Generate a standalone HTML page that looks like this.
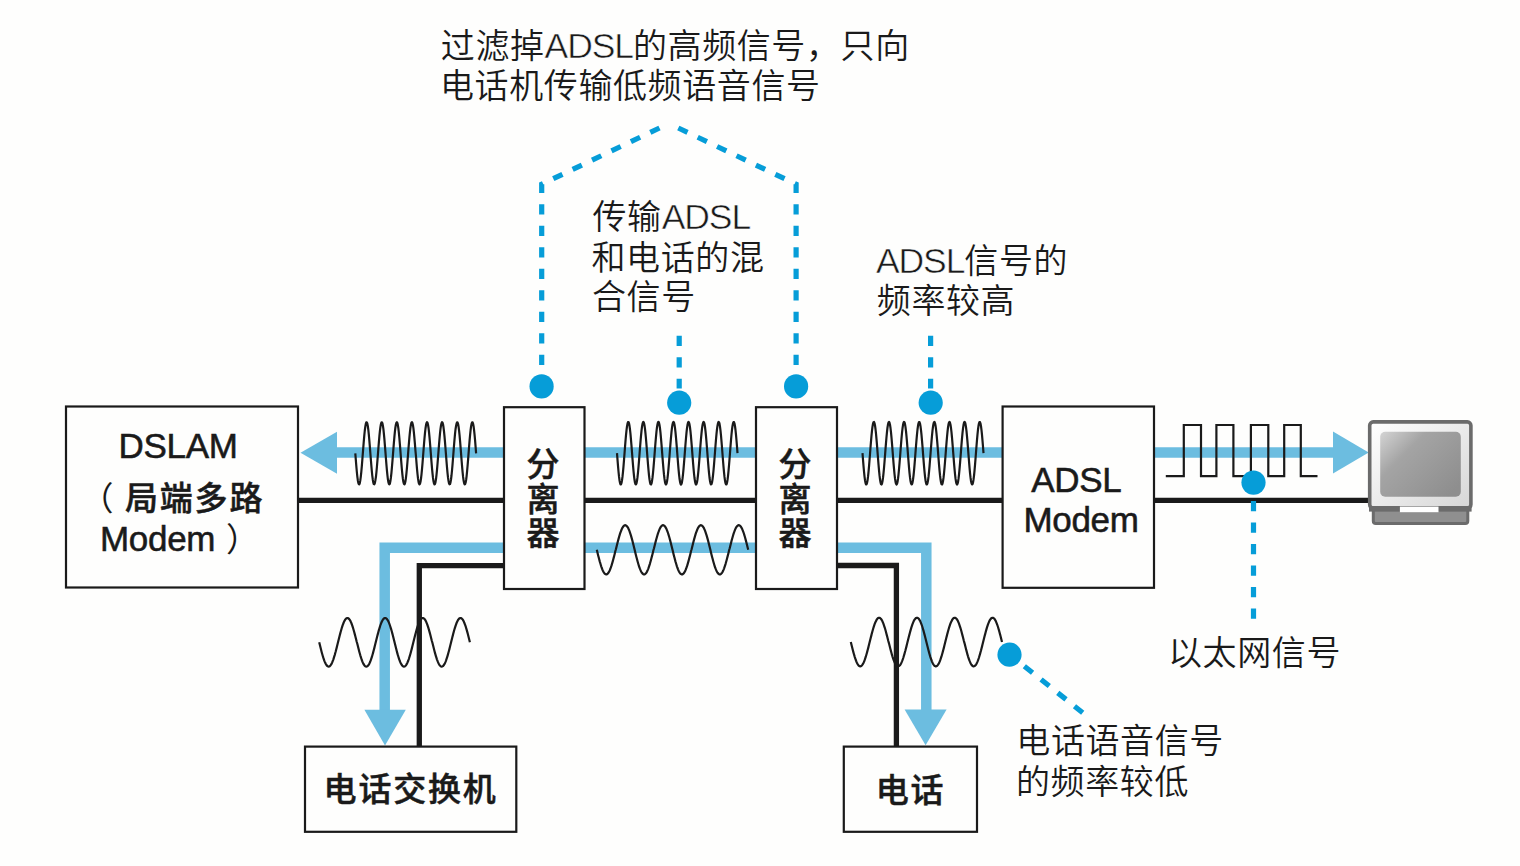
<!DOCTYPE html>
<html lang="zh-CN">
<head>
<meta charset="utf-8">
<title>ADSL 分离器</title>
<style>
html,body{margin:0;padding:0;background:#fefefd;}
body{width:1520px;height:866px;overflow:hidden;position:relative;}
svg{display:block;position:absolute;left:0;top:0;}
text{font-family:"Liberation Sans","Noto Sans CJK SC",sans-serif;fill:#1a1a1a;}
.ann{font-size:34px;font-weight:350;letter-spacing:0.6px;}
.lbl{font-size:35px;font-weight:400;letter-spacing:-0.3px;stroke:#1a1a1a;stroke-width:0.55px;}
.cjkb{font-size:33px;font-weight:500;letter-spacing:1.8px;stroke:#1a1a1a;stroke-width:0.5px;}
.lat{font-size:35.5px;letter-spacing:-1.1px;stroke:#fefefd;stroke-width:0.55px;paint-order:fill stroke;}
.par{font-size:33px;font-weight:400;stroke:none;letter-spacing:0;}
.box{fill:#fefefd;stroke:#1a1a1a;stroke-width:2.2;}
.wave{fill:none;stroke:#1a1a1a;stroke-width:2.2;stroke-linejoin:round;stroke-linecap:butt;}
.blk{fill:none;stroke:#1a1a1a;stroke-width:5.3;stroke-linejoin:miter;}
.blue{fill:none;stroke:#6cbde0;stroke-width:10.5;stroke-linejoin:miter;}
.ah{fill:#6cbde0;}
.dot{fill:#069dd8;}
.dash{fill:none;stroke:#069dd8;stroke-width:5.2;stroke-dasharray:10.2 11.3;}
</style>
</head>
<body>
<svg width="1520" height="866" viewBox="0 0 1520 866">
<defs>
<linearGradient id="gbez" x1="0" y1="0" x2="1" y2="1">
<stop offset="0" stop-color="#ffffff"/><stop offset="1" stop-color="#d6d6d6"/>
</linearGradient>
<linearGradient id="gscr" x1="0" y1="0" x2="1" y2="0.8">
<stop offset="0" stop-color="#d4d4d4"/><stop offset="0.35" stop-color="#a4a4a4"/><stop offset="1" stop-color="#8e8e8e"/>
</linearGradient>
</defs>

<!-- blue signal bands -->
<path class="blue" d="M1002 452.6H337"/>
<path class="ah" d="M300.5 452.8L337 431.8V473.8Z"/>
<path class="blue" d="M1154 452.6H1334"/>
<path class="ah" d="M1368.7 452.6L1333 431.6V473.6Z"/>
<path class="blue" d="M756 547.8H384.7V711"/>
<path class="ah" d="M385 745.5L364.4 709.8H405.8Z"/>
<path class="blue" d="M837 547.8H926.3V711"/>
<path class="ah" d="M925.6 745.3L904.6 709.6H946.6Z"/>

<!-- black wires -->
<path class="blk" d="M298 500.3H1369"/>
<path class="blk" d="M504 565.6H419.3V747"/>
<path class="blk" d="M837 565.5H896.4V747"/>

<!-- boxes -->
<rect class="box" x="66" y="406.5" width="232" height="181"/>
<rect class="box" x="504" y="407.2" width="80.5" height="181.8"/>
<rect class="box" x="756" y="407.2" width="81" height="181.8"/>
<rect class="box" x="1002.6" y="406.5" width="151.4" height="181.3"/>
<rect class="box" x="305" y="746.6" width="211.3" height="85.2"/>
<rect class="box" x="843.8" y="746.6" width="133.2" height="85.2"/>

<!-- waves -->
<path class="wave" d="M355.3,453.3 L355.8,459.7 L356.3,465.9 L356.8,471.5 L357.3,476.3 L357.8,480.2 L358.3,482.8 L358.8,484.2 L359.3,484.3 L359.8,483.0 L360.3,480.4 L360.8,476.6 L361.3,471.8 L361.8,466.3 L362.3,460.1 L362.8,453.7 L363.3,447.3 L363.8,441.1 L364.3,435.4 L364.8,430.5 L365.3,426.6 L365.8,423.9 L366.3,422.4 L366.8,422.3 L367.3,423.5 L367.8,426.0 L368.3,429.7 L368.8,434.4 L369.3,440.0 L369.8,446.1 L370.3,452.5 L370.8,458.9 L371.3,465.2 L371.8,470.9 L372.3,475.8 L372.8,479.7 L373.3,482.6 L373.8,484.1 L374.3,484.3 L374.8,483.2 L375.3,480.8 L375.9,477.1 L376.4,472.5 L376.9,467.0 L377.4,460.9 L377.9,454.5 L378.4,448.1 L378.9,441.8 L379.4,436.1 L379.9,431.1 L380.4,427.1 L380.9,424.2 L381.4,422.5 L381.9,422.3 L382.4,423.3 L382.9,425.7 L383.4,429.2 L383.9,433.8 L384.4,439.2 L384.9,445.3 L385.4,451.7 L385.9,458.1 L386.4,464.4 L386.9,470.2 L387.4,475.2 L387.9,479.3 L388.4,482.3 L388.9,484.0 L389.4,484.4 L389.9,483.4 L390.4,481.1 L390.9,477.7 L391.4,473.1 L391.9,467.7 L392.4,461.7 L392.9,455.3 L393.4,448.9 L393.9,442.6 L394.4,436.8 L394.9,431.7 L395.4,427.5 L395.9,424.5 L396.4,422.7 L396.9,422.2 L397.4,423.1 L397.9,425.3 L398.4,428.7 L398.9,433.2 L399.4,438.5 L399.9,444.5 L400.4,450.9 L400.9,457.3 L401.4,463.6 L401.9,469.5 L402.4,474.6 L402.9,478.9 L403.4,482.0 L403.9,483.8 L404.4,484.4 L404.9,483.6 L405.4,481.5 L405.9,478.1 L406.4,473.7 L406.9,468.4 L407.4,462.5 L407.9,456.1 L408.4,449.7 L408.9,443.3 L409.4,437.5 L409.9,432.3 L410.4,428.0 L410.9,424.8 L411.4,422.8 L411.9,422.2 L412.4,422.9 L412.9,424.9 L413.4,428.2 L413.9,432.6 L414.4,437.8 L414.9,443.7 L415.4,450.1 L416.0,456.5 L416.5,462.9 L417.0,468.8 L417.5,474.0 L418.0,478.4 L418.5,481.7 L419.0,483.7 L419.5,484.4 L420.0,483.8 L420.5,481.8 L421.0,478.6 L421.5,474.3 L422.0,469.1 L422.5,463.3 L423.0,456.9 L423.5,450.5 L424.0,444.1 L424.5,438.2 L425.0,432.9 L425.5,428.5 L426.0,425.1 L426.5,423.0 L427.0,422.2 L427.5,422.8 L428.0,424.6 L428.5,427.7 L429.0,432.0 L429.5,437.1 L430.0,443.0 L430.5,449.3 L431.0,455.7 L431.5,462.1 L432.0,468.1 L432.5,473.4 L433.0,477.9 L433.5,481.3 L434.0,483.5 L434.5,484.4 L435.0,483.9 L435.5,482.1 L436.0,479.1 L436.5,474.9 L437.0,469.8 L437.5,464.0 L438.0,457.7 L438.5,451.3 L439.0,444.9 L439.5,438.9 L440.0,433.5 L440.5,428.9 L441.0,425.5 L441.5,423.2 L442.0,422.2 L442.5,422.6 L443.0,424.3 L443.5,427.3 L444.0,431.4 L444.5,436.4 L445.0,442.2 L445.5,448.5 L446.0,454.9 L446.5,461.3 L447.0,467.4 L447.5,472.8 L448.0,477.4 L448.5,480.9 L449.0,483.3 L449.5,484.3 L450.0,484.1 L450.5,482.4 L451.0,479.5 L451.5,475.5 L452.0,470.5 L452.5,464.8 L453.0,458.5 L453.5,452.1 L454.0,445.7 L454.5,439.6 L455.0,434.1 L455.5,429.5 L456.1,425.8 L456.6,423.4 L457.1,422.3 L457.6,422.5 L458.1,424.0 L458.6,426.9 L459.1,430.8 L459.6,435.7 L460.1,441.4 L460.6,447.7 L461.1,454.1 L461.6,460.5 L462.1,466.6 L462.6,472.2 L463.1,476.9 L463.6,480.6 L464.1,483.1 L464.6,484.3 L465.1,484.2 L465.6,482.7 L466.1,480.0 L466.6,476.1 L467.1,471.2 L467.6,465.5 L468.1,459.3 L468.6,452.9 L469.1,446.5 L469.6,440.3 L470.1,434.8 L470.6,430.0 L471.1,426.2 L471.6,423.6 L472.1,422.3 L472.6,422.4 L473.1,423.8 L473.6,426.4 L474.1,430.3 L474.6,435.1 L475.1,440.7 L475.6,446.9 L476.1,453.3"/>
<path class="wave" d="M617.0,453.2 L617.5,459.7 L618.0,465.9 L618.5,471.5 L619.0,476.4 L619.5,480.2 L620.0,482.9 L620.5,484.3 L621.0,484.4 L621.5,483.0 L622.0,480.4 L622.5,476.7 L623.0,471.9 L623.5,466.3 L624.0,460.1 L624.5,453.6 L625.0,447.1 L625.5,440.9 L626.0,435.2 L626.5,430.3 L627.0,426.4 L627.5,423.6 L628.0,422.1 L628.5,422.0 L629.0,423.2 L629.5,425.8 L630.0,429.5 L630.5,434.2 L631.0,439.8 L631.5,445.9 L632.0,452.4 L632.5,458.9 L633.0,465.1 L633.5,470.9 L634.0,475.8 L634.5,479.8 L635.0,482.7 L635.5,484.2 L636.0,484.4 L636.5,483.3 L637.0,480.8 L637.5,477.2 L638.0,472.5 L638.5,467.0 L639.0,460.9 L639.5,454.4 L640.0,447.9 L640.5,441.6 L641.0,435.9 L641.5,430.9 L642.0,426.8 L642.5,423.9 L643.0,422.3 L643.5,422.0 L644.0,423.0 L644.5,425.4 L645.0,428.9 L645.5,433.6 L646.0,439.0 L646.5,445.1 L647.0,451.6 L647.5,458.1 L648.0,464.4 L648.5,470.2 L649.0,475.3 L649.5,479.4 L650.0,482.4 L650.5,484.1 L651.0,484.5 L651.5,483.5 L652.0,481.2 L652.5,477.7 L653.0,473.1 L653.5,467.7 L654.0,461.7 L654.5,455.2 L655.0,448.7 L655.5,442.4 L656.0,436.6 L656.5,431.4 L657.0,427.2 L657.5,424.2 L658.0,422.4 L658.5,421.9 L659.0,422.8 L659.5,425.0 L660.0,428.4 L660.5,432.9 L661.0,438.3 L661.5,444.3 L662.0,450.8 L662.5,457.3 L663.0,463.6 L663.5,469.5 L664.0,474.7 L664.5,478.9 L665.0,482.1 L665.5,483.9 L666.0,484.5 L666.5,483.7 L667.0,481.6 L667.5,478.2 L668.0,473.8 L668.5,468.4 L669.0,462.4 L669.5,456.1 L670.0,449.5 L670.5,443.2 L671.0,437.3 L671.5,432.0 L672.0,427.7 L672.5,424.5 L673.0,422.5 L673.5,421.9 L674.0,422.6 L674.5,424.7 L675.0,427.9 L675.5,432.3 L676.0,437.6 L676.5,443.6 L677.0,449.9 L677.5,456.5 L678.0,462.8 L678.5,468.8 L679.0,474.1 L679.5,478.5 L680.0,481.7 L680.5,483.8 L681.0,484.5 L681.5,483.9 L682.0,481.9 L682.5,478.7 L683.0,474.4 L683.5,469.1 L684.0,463.2 L684.5,456.9 L685.0,450.3 L685.5,444.0 L686.0,438.0 L686.5,432.6 L687.0,428.2 L687.5,424.8 L688.0,422.7 L688.5,421.9 L689.0,422.5 L689.5,424.3 L690.0,427.5 L690.5,431.7 L691.0,436.9 L691.5,442.8 L692.0,449.1 L692.5,455.6 L693.0,462.1 L693.5,468.1 L694.0,473.5 L694.5,478.0 L695.0,481.4 L695.5,483.6 L696.0,484.5 L696.5,484.0 L697.0,482.2 L697.5,479.2 L698.0,475.0 L698.5,469.8 L699.0,464.0 L699.5,457.7 L700.0,451.2 L700.5,444.7 L701.0,438.7 L701.5,433.3 L702.0,428.7 L702.5,425.2 L703.0,422.9 L703.5,421.9 L704.0,422.3 L704.5,424.0 L705.0,427.0 L705.5,431.1 L706.0,436.2 L706.5,442.0 L707.0,448.3 L707.5,454.8 L708.0,461.3 L708.5,467.4 L709.0,472.8 L709.5,477.5 L710.0,481.0 L710.5,483.4 L711.0,484.4 L711.5,484.1 L712.0,482.5 L712.5,479.6 L713.0,475.5 L713.5,470.5 L714.0,464.8 L714.5,458.5 L715.0,452.0 L715.5,445.5 L716.0,439.4 L716.5,433.9 L717.0,429.2 L717.5,425.6 L718.0,423.1 L718.5,422.0 L719.0,422.2 L719.5,423.7 L720.0,426.6 L720.5,430.6 L721.0,435.5 L721.5,441.3 L722.0,447.5 L722.5,454.0 L723.0,460.5 L723.5,466.6 L724.0,472.2 L724.5,476.9 L725.0,480.6 L725.5,483.2 L726.0,484.4 L726.5,484.3 L727.0,482.8 L727.5,480.0 L728.0,476.1 L728.5,471.2 L729.0,465.5 L729.5,459.3 L730.0,452.8 L730.5,446.3 L731.0,440.1 L731.5,434.5 L732.0,429.7 L732.5,426.0 L733.0,423.4 L733.5,422.0 L734.0,422.1 L734.5,423.5 L735.0,426.2 L735.5,430.0 L736.0,434.9 L736.5,440.5 L737.0,446.7 L737.5,453.2"/>
<path class="wave" d="M862.5,453.2 L863.0,459.7 L863.5,465.8 L864.0,471.5 L864.5,476.3 L865.0,480.2 L865.5,482.9 L866.0,484.3 L866.5,484.4 L867.0,483.1 L867.5,480.6 L868.0,476.9 L868.5,472.1 L869.0,466.6 L869.5,460.4 L870.0,454.0 L870.5,447.5 L871.0,441.3 L871.5,435.6 L872.0,430.6 L872.5,426.7 L873.0,423.8 L873.5,422.2 L874.0,422.0 L874.5,423.1 L875.0,425.4 L875.5,429.0 L876.0,433.6 L876.5,439.1 L877.0,445.2 L877.5,451.6 L878.0,458.1 L878.5,464.3 L879.0,470.1 L879.5,475.2 L880.0,479.3 L880.5,482.3 L881.0,484.1 L881.5,484.5 L882.0,483.6 L882.5,481.3 L883.0,477.9 L883.5,473.4 L884.0,468.0 L884.5,462.0 L885.0,455.6 L885.5,449.1 L886.0,442.8 L886.5,437.0 L887.0,431.8 L887.5,427.5 L888.0,424.4 L888.5,422.5 L889.0,421.9 L889.5,422.7 L890.0,424.7 L890.5,428.0 L891.0,432.4 L891.5,437.7 L892.0,443.6 L892.5,450.0 L893.0,456.4 L893.5,462.8 L894.0,468.7 L894.5,474.0 L895.0,478.4 L895.5,481.7 L896.0,483.7 L896.5,484.5 L897.0,483.9 L897.5,482.0 L898.0,478.9 L898.5,474.6 L899.0,469.4 L899.5,463.6 L900.0,457.3 L900.5,450.8 L901.0,444.4 L901.5,438.4 L902.0,433.0 L902.5,428.5 L903.0,425.1 L903.5,422.8 L904.0,421.9 L904.5,422.3 L905.0,424.1 L905.5,427.1 L906.0,431.2 L906.5,436.3 L907.0,442.1 L907.5,448.3 L908.0,454.8 L908.5,461.2 L909.0,467.3 L909.5,472.8 L910.0,477.4 L910.5,481.0 L911.0,483.3 L911.5,484.4 L912.0,484.2 L912.5,482.6 L913.0,479.7 L913.5,475.8 L914.0,470.8 L914.5,465.1 L915.0,458.9 L915.5,452.4 L916.0,446.0 L916.5,439.8 L917.0,434.3 L917.5,429.5 L918.0,425.8 L918.5,423.3 L919.0,422.0 L919.5,422.1 L920.0,423.5 L920.5,426.2 L921.0,430.1 L921.5,434.9 L922.0,440.6 L922.5,446.7 L923.0,453.2 L923.5,459.7 L924.0,465.8 L924.5,471.5 L925.0,476.3 L925.5,480.2 L926.0,482.9 L926.5,484.3 L927.0,484.4 L927.5,483.1 L928.0,480.6 L928.5,476.9 L929.0,472.1 L929.5,466.6 L930.0,460.4 L930.5,454.0 L931.0,447.5 L931.5,441.3 L932.0,435.6 L932.5,430.6 L933.0,426.7 L933.5,423.8 L934.0,422.2 L934.5,422.0 L935.0,423.1 L935.5,425.4 L936.0,429.0 L936.5,433.6 L937.0,439.1 L937.5,445.2 L938.0,451.6 L938.5,458.1 L939.0,464.3 L939.5,470.1 L940.0,475.2 L940.5,479.3 L941.0,482.3 L941.5,484.1 L942.0,484.5 L942.5,483.6 L943.0,481.3 L943.5,477.9 L944.0,473.4 L944.5,468.0 L945.0,462.0 L945.5,455.6 L946.0,449.1 L946.5,442.8 L947.0,437.0 L947.5,431.8 L948.0,427.5 L948.5,424.4 L949.0,422.5 L949.5,421.9 L950.0,422.7 L950.5,424.7 L951.0,428.0 L951.5,432.4 L952.0,437.7 L952.5,443.6 L953.0,450.0 L953.5,456.4 L954.0,462.8 L954.5,468.7 L955.0,474.0 L955.5,478.4 L956.0,481.7 L956.5,483.7 L957.0,484.5 L957.5,483.9 L958.0,482.0 L958.5,478.9 L959.0,474.6 L959.5,469.4 L960.0,463.6 L960.5,457.3 L961.0,450.8 L961.5,444.4 L962.0,438.4 L962.5,433.0 L963.0,428.5 L963.5,425.1 L964.0,422.8 L964.5,421.9 L965.0,422.3 L965.5,424.1 L966.0,427.1 L966.5,431.2 L967.0,436.3 L967.5,442.1 L968.0,448.3 L968.5,454.8 L969.0,461.2 L969.5,467.3 L970.0,472.8 L970.5,477.4 L971.0,481.0 L971.5,483.3 L972.0,484.4 L972.5,484.2 L973.0,482.6 L973.5,479.7 L974.0,475.8 L974.5,470.8 L975.0,465.1 L975.5,458.9 L976.0,452.4 L976.5,446.0 L977.0,439.8 L977.5,434.3 L978.0,429.5 L978.5,425.8 L979.0,423.3 L979.5,422.0 L980.0,422.1 L980.5,423.5 L981.0,426.2 L981.5,430.1 L982.0,434.9 L982.5,440.6 L983.0,446.7 L983.5,453.2"/>
<path class="wave" d="M596.8,549.8 L597.3,551.8 L597.8,553.9 L598.3,555.9 L598.8,557.8 L599.3,559.7 L599.8,561.6 L600.3,563.3 L600.8,565.0 L601.3,566.6 L601.8,568.0 L602.3,569.3 L602.8,570.5 L603.3,571.5 L603.8,572.4 L604.3,573.1 L604.8,573.7 L605.3,574.1 L605.8,574.3 L606.3,574.4 L606.8,574.3 L607.3,574.0 L607.8,573.6 L608.3,573.0 L608.8,572.2 L609.3,571.3 L609.8,570.2 L610.3,569.0 L610.8,567.6 L611.3,566.2 L611.8,564.6 L612.3,562.9 L612.8,561.1 L613.3,559.3 L613.8,557.4 L614.3,555.4 L614.8,553.4 L615.3,551.3 L615.9,549.3 L616.4,547.2 L616.9,545.2 L617.4,543.2 L617.9,541.3 L618.4,539.4 L618.9,537.6 L619.4,535.8 L619.9,534.2 L620.4,532.7 L620.9,531.3 L621.4,530.0 L621.9,528.8 L622.4,527.8 L622.9,527.0 L623.4,526.3 L623.9,525.8 L624.4,525.4 L624.9,525.2 L625.4,525.2 L625.9,525.4 L626.4,525.7 L626.9,526.2 L627.4,526.8 L627.9,527.6 L628.4,528.6 L628.9,529.7 L629.4,530.9 L629.9,532.3 L630.4,533.8 L630.9,535.4 L631.4,537.1 L631.9,538.9 L632.4,540.8 L632.9,542.7 L633.4,544.7 L633.9,546.7 L634.4,548.8 L634.9,550.8 L635.4,552.9 L635.9,554.9 L636.4,556.9 L636.9,558.8 L637.4,560.7 L637.9,562.5 L638.4,564.2 L638.9,565.8 L639.4,567.3 L639.9,568.7 L640.4,569.9 L640.9,571.0 L641.4,572.0 L641.9,572.8 L642.4,573.4 L642.9,573.9 L643.4,574.2 L643.9,574.4 L644.4,574.4 L644.9,574.2 L645.4,573.8 L645.9,573.3 L646.4,572.6 L646.9,571.8 L647.4,570.8 L647.9,569.6 L648.4,568.3 L648.9,566.9 L649.4,565.4 L649.9,563.8 L650.4,562.0 L650.9,560.2 L651.4,558.3 L651.9,556.4 L652.4,554.4 L652.9,552.4 L653.4,550.3 L654.0,548.3 L654.5,546.2 L655.0,544.2 L655.5,542.2 L656.0,540.3 L656.5,538.5 L657.0,536.7 L657.5,535.0 L658.0,533.4 L658.5,532.0 L659.0,530.6 L659.5,529.4 L660.0,528.3 L660.5,527.4 L661.0,526.6 L661.5,526.0 L662.0,525.6 L662.5,525.3 L663.0,525.2 L663.5,525.3 L664.0,525.5 L664.5,525.9 L665.0,526.5 L665.5,527.2 L666.0,528.1 L666.5,529.1 L667.0,530.3 L667.5,531.6 L668.0,533.0 L668.5,534.6 L669.0,536.3 L669.5,538.0 L670.0,539.9 L670.5,541.8 L671.0,543.7 L671.5,545.7 L672.0,547.8 L672.5,549.8 L673.0,551.8 L673.5,553.9 L674.0,555.9 L674.5,557.8 L675.0,559.7 L675.5,561.6 L676.0,563.3 L676.5,565.0 L677.0,566.6 L677.5,568.0 L678.0,569.3 L678.5,570.5 L679.0,571.5 L679.5,572.4 L680.0,573.1 L680.5,573.7 L681.0,574.1 L681.5,574.3 L682.0,574.4 L682.5,574.3 L683.0,574.0 L683.5,573.6 L684.0,573.0 L684.5,572.2 L685.0,571.3 L685.5,570.2 L686.0,569.0 L686.5,567.6 L687.0,566.2 L687.5,564.6 L688.0,562.9 L688.5,561.1 L689.0,559.3 L689.5,557.4 L690.0,555.4 L690.5,553.4 L691.0,551.3 L691.6,549.3 L692.1,547.2 L692.6,545.2 L693.1,543.2 L693.6,541.3 L694.1,539.4 L694.6,537.6 L695.1,535.8 L695.6,534.2 L696.1,532.7 L696.6,531.3 L697.1,530.0 L697.6,528.8 L698.1,527.8 L698.6,527.0 L699.1,526.3 L699.6,525.8 L700.1,525.4 L700.6,525.2 L701.1,525.2 L701.6,525.4 L702.1,525.7 L702.6,526.2 L703.1,526.8 L703.6,527.6 L704.1,528.6 L704.6,529.7 L705.1,530.9 L705.6,532.3 L706.1,533.8 L706.6,535.4 L707.1,537.1 L707.6,538.9 L708.1,540.8 L708.6,542.7 L709.1,544.7 L709.6,546.7 L710.1,548.8 L710.6,550.8 L711.1,552.9 L711.6,554.9 L712.1,556.9 L712.6,558.8 L713.1,560.7 L713.6,562.5 L714.1,564.2 L714.6,565.8 L715.1,567.3 L715.6,568.7 L716.1,569.9 L716.6,571.0 L717.1,572.0 L717.6,572.8 L718.1,573.4 L718.6,573.9 L719.1,574.2 L719.6,574.4 L720.1,574.4 L720.6,574.2 L721.1,573.8 L721.6,573.3 L722.1,572.6 L722.6,571.8 L723.1,570.8 L723.6,569.6 L724.1,568.3 L724.6,566.9 L725.1,565.4 L725.6,563.8 L726.1,562.0 L726.6,560.2 L727.1,558.3 L727.6,556.4 L728.1,554.4 L728.6,552.4 L729.1,550.3 L729.7,548.3 L730.2,546.2 L730.7,544.2 L731.2,542.2 L731.7,540.3 L732.2,538.5 L732.7,536.7 L733.2,535.0 L733.7,533.4 L734.2,532.0 L734.7,530.6 L735.2,529.4 L735.7,528.3 L736.2,527.4 L736.7,526.6 L737.2,526.0 L737.7,525.6 L738.2,525.3 L738.7,525.2 L739.2,525.3 L739.7,525.5 L740.2,525.9 L740.7,526.5 L741.2,527.2 L741.7,528.1 L742.2,529.1 L742.7,530.3 L743.2,531.6 L743.7,533.0 L744.2,534.6 L744.7,536.3 L745.2,538.0 L745.7,539.9 L746.2,541.8 L746.7,543.7 L747.2,545.7 L747.7,547.8 L748.2,549.8"/>
<path class="wave" d="M319.2,642.3 L319.7,644.3 L320.2,646.3 L320.7,648.3 L321.2,650.3 L321.7,652.2 L322.2,654.0 L322.7,655.7 L323.2,657.4 L323.7,658.9 L324.2,660.3 L324.7,661.6 L325.2,662.8 L325.7,663.8 L326.2,664.7 L326.7,665.4 L327.2,665.9 L327.7,666.3 L328.2,666.5 L328.7,666.6 L329.2,666.5 L329.7,666.2 L330.2,665.7 L330.7,665.1 L331.2,664.4 L331.7,663.4 L332.2,662.4 L332.7,661.1 L333.2,659.8 L333.7,658.3 L334.2,656.7 L334.7,655.1 L335.2,653.3 L335.7,651.5 L336.2,649.5 L336.7,647.6 L337.2,645.6 L337.7,643.6 L338.2,641.5 L338.7,639.5 L339.2,637.5 L339.7,635.5 L340.2,633.6 L340.7,631.8 L341.2,630.0 L341.7,628.3 L342.2,626.7 L342.7,625.2 L343.2,623.8 L343.7,622.5 L344.2,621.4 L344.7,620.5 L345.2,619.6 L345.7,619.0 L346.2,618.5 L346.7,618.2 L347.2,618.0 L347.7,618.0 L348.2,618.2 L348.7,618.6 L349.2,619.1 L349.7,619.7 L350.2,620.6 L350.7,621.6 L351.2,622.7 L351.7,624.0 L352.2,625.3 L352.7,626.9 L353.2,628.5 L353.7,630.2 L354.2,632.0 L354.7,633.9 L355.2,635.8 L355.7,637.8 L356.2,639.8 L356.7,641.8 L357.3,643.8 L357.8,645.8 L358.3,647.8 L358.8,649.8 L359.3,651.7 L359.8,653.5 L360.3,655.3 L360.8,656.9 L361.3,658.5 L361.8,660.0 L362.3,661.3 L362.8,662.5 L363.3,663.6 L363.8,664.5 L364.3,665.2 L364.8,665.8 L365.3,666.2 L365.8,666.5 L366.3,666.6 L366.8,666.5 L367.3,666.3 L367.8,665.9 L368.3,665.3 L368.8,664.6 L369.3,663.7 L369.8,662.6 L370.3,661.5 L370.8,660.1 L371.3,658.7 L371.8,657.2 L372.3,655.5 L372.8,653.7 L373.3,651.9 L373.8,650.0 L374.3,648.1 L374.8,646.1 L375.3,644.1 L375.8,642.0 L376.3,640.0 L376.8,638.0 L377.3,636.0 L377.8,634.1 L378.3,632.2 L378.8,630.4 L379.3,628.7 L379.8,627.1 L380.3,625.5 L380.8,624.1 L381.3,622.8 L381.8,621.7 L382.3,620.7 L382.8,619.8 L383.3,619.1 L383.8,618.6 L384.3,618.2 L384.8,618.0 L385.3,618.0 L385.8,618.1 L386.3,618.5 L386.8,618.9 L387.3,619.6 L387.8,620.4 L388.3,621.3 L388.8,622.4 L389.3,623.6 L389.8,625.0 L390.3,626.5 L390.8,628.1 L391.3,629.7 L391.8,631.5 L392.3,633.4 L392.8,635.3 L393.3,637.3 L393.8,639.3 L394.3,641.3 L394.8,643.3 L395.3,645.3 L395.8,647.3 L396.3,649.3 L396.8,651.2 L397.3,653.1 L397.8,654.9 L398.3,656.5 L398.8,658.1 L399.3,659.6 L399.8,661.0 L400.3,662.2 L400.8,663.3 L401.3,664.2 L401.8,665.0 L402.3,665.7 L402.8,666.1 L403.3,666.5 L403.8,666.6 L404.3,666.6 L404.8,666.4 L405.3,666.0 L405.8,665.5 L406.3,664.8 L406.8,663.9 L407.3,662.9 L407.8,661.8 L408.3,660.5 L408.8,659.1 L409.3,657.5 L409.8,655.9 L410.3,654.2 L410.8,652.4 L411.3,650.5 L411.8,648.6 L412.3,646.6 L412.8,644.6 L413.3,642.6 L413.8,640.5 L414.3,638.5 L414.8,636.5 L415.3,634.6 L415.8,632.7 L416.3,630.9 L416.8,629.1 L417.3,627.4 L417.8,625.9 L418.3,624.5 L418.8,623.1 L419.3,622.0 L419.8,620.9 L420.3,620.0 L420.8,619.3 L421.3,618.7 L421.8,618.3 L422.3,618.1 L422.8,618.0 L423.3,618.1 L423.8,618.4 L424.3,618.8 L424.8,619.4 L425.3,620.1 L425.8,621.0 L426.3,622.1 L426.8,623.3 L427.3,624.6 L427.8,626.1 L428.3,627.7 L428.8,629.3 L429.3,631.1 L429.8,632.9 L430.3,634.8 L430.8,636.8 L431.3,638.8 L431.8,640.8 L432.4,642.8 L432.9,644.8 L433.4,646.8 L433.9,648.8 L434.4,650.7 L434.9,652.6 L435.4,654.4 L435.9,656.1 L436.4,657.7 L436.9,659.3 L437.4,660.6 L437.9,661.9 L438.4,663.0 L438.9,664.0 L439.4,664.9 L439.9,665.5 L440.4,666.0 L440.9,666.4 L441.4,666.6 L441.9,666.6 L442.4,666.4 L442.9,666.1 L443.4,665.6 L443.9,665.0 L444.4,664.1 L444.9,663.2 L445.4,662.1 L445.9,660.8 L446.4,659.4 L446.9,657.9 L447.4,656.3 L447.9,654.6 L448.4,652.8 L448.9,651.0 L449.4,649.1 L449.9,647.1 L450.4,645.1 L450.9,643.1 L451.4,641.0 L451.9,639.0 L452.4,637.0 L452.9,635.1 L453.4,633.1 L453.9,631.3 L454.4,629.5 L454.9,627.9 L455.4,626.3 L455.9,624.8 L456.4,623.5 L456.9,622.2 L457.4,621.2 L457.9,620.2 L458.4,619.5 L458.9,618.9 L459.4,618.4 L459.9,618.1 L460.4,618.0 L460.9,618.1 L461.4,618.3 L461.9,618.7 L462.4,619.2 L462.9,619.9 L463.4,620.8 L463.9,621.8 L464.4,623.0 L464.9,624.3 L465.4,625.7 L465.9,627.2 L466.4,628.9 L466.9,630.6 L467.4,632.4 L467.9,634.3 L468.4,636.3 L468.9,638.3 L469.4,640.3 L469.9,642.3"/>
<path class="wave" d="M850.8,642.0 L851.3,644.1 L851.8,646.1 L852.3,648.1 L852.8,650.0 L853.3,651.9 L853.8,653.7 L854.3,655.4 L854.8,657.1 L855.3,658.6 L855.8,660.0 L856.3,661.3 L856.8,662.5 L857.3,663.5 L857.8,664.4 L858.3,665.1 L858.8,665.7 L859.3,666.1 L859.8,666.3 L860.3,666.3 L860.8,666.2 L861.3,666.0 L861.8,665.5 L862.3,664.9 L862.8,664.2 L863.3,663.3 L863.8,662.2 L864.3,661.0 L864.8,659.7 L865.3,658.2 L865.8,656.7 L866.3,655.0 L866.8,653.2 L867.3,651.4 L867.8,649.5 L868.3,647.6 L868.8,645.6 L869.3,643.6 L869.8,641.5 L870.3,639.5 L870.8,637.5 L871.3,635.6 L871.8,633.6 L872.3,631.8 L872.8,630.0 L873.3,628.3 L873.8,626.6 L874.3,625.1 L874.8,623.7 L875.3,622.5 L875.8,621.4 L876.3,620.4 L876.8,619.5 L877.3,618.8 L877.8,618.3 L878.3,618.0 L878.8,617.8 L879.3,617.8 L879.8,617.9 L880.3,618.2 L880.8,618.7 L881.3,619.3 L881.8,620.1 L882.3,621.1 L882.8,622.2 L883.3,623.4 L883.8,624.8 L884.3,626.3 L884.8,627.8 L885.3,629.5 L885.8,631.3 L886.3,633.2 L886.8,635.1 L887.3,637.0 L887.8,639.0 L888.3,641.0 L888.9,643.1 L889.4,645.1 L889.9,647.1 L890.4,649.0 L890.9,650.9 L891.4,652.8 L891.9,654.6 L892.4,656.3 L892.9,657.8 L893.4,659.3 L893.9,660.7 L894.4,661.9 L894.9,663.0 L895.4,664.0 L895.9,664.8 L896.4,665.4 L896.9,665.9 L897.4,666.2 L897.9,666.3 L898.4,666.3 L898.9,666.1 L899.4,665.8 L899.9,665.3 L900.4,664.6 L900.9,663.7 L901.4,662.7 L901.9,661.6 L902.4,660.4 L902.9,659.0 L903.4,657.5 L903.9,655.8 L904.4,654.1 L904.9,652.3 L905.4,650.5 L905.9,648.5 L906.4,646.6 L906.9,644.6 L907.4,642.6 L907.9,640.5 L908.4,638.5 L908.9,636.5 L909.4,634.6 L909.9,632.7 L910.4,630.9 L910.9,629.1 L911.4,627.4 L911.9,625.9 L912.4,624.4 L912.9,623.1 L913.4,621.9 L913.9,620.8 L914.4,619.9 L914.9,619.2 L915.4,618.6 L915.9,618.1 L916.4,617.9 L916.9,617.8 L917.4,617.8 L917.9,618.0 L918.4,618.4 L918.9,619.0 L919.4,619.7 L919.9,620.6 L920.4,621.6 L920.9,622.8 L921.4,624.1 L921.9,625.5 L922.4,627.0 L922.9,628.7 L923.4,630.4 L923.9,632.2 L924.4,634.1 L924.9,636.0 L925.4,638.0 L925.9,640.0 L926.4,642.0 L926.9,644.1 L927.4,646.1 L927.9,648.1 L928.4,650.0 L928.9,651.9 L929.4,653.7 L929.9,655.4 L930.4,657.1 L930.9,658.6 L931.4,660.0 L931.9,661.3 L932.4,662.5 L932.9,663.5 L933.4,664.4 L933.9,665.1 L934.4,665.7 L934.9,666.1 L935.4,666.3 L935.9,666.3 L936.4,666.2 L936.9,666.0 L937.4,665.5 L937.9,664.9 L938.4,664.2 L938.9,663.3 L939.4,662.2 L939.9,661.0 L940.4,659.7 L940.9,658.2 L941.4,656.7 L941.9,655.0 L942.4,653.2 L942.9,651.4 L943.4,649.5 L943.9,647.6 L944.4,645.6 L944.9,643.6 L945.4,641.5 L945.9,639.5 L946.4,637.5 L946.9,635.6 L947.4,633.6 L947.9,631.8 L948.4,630.0 L948.9,628.3 L949.4,626.6 L949.9,625.1 L950.4,623.7 L950.9,622.5 L951.4,621.4 L951.9,620.4 L952.4,619.5 L952.9,618.8 L953.4,618.3 L953.9,618.0 L954.4,617.8 L954.9,617.8 L955.4,617.9 L955.9,618.2 L956.4,618.7 L956.9,619.3 L957.4,620.1 L957.9,621.1 L958.4,622.2 L958.9,623.4 L959.4,624.8 L959.9,626.3 L960.4,627.8 L960.9,629.5 L961.4,631.3 L961.9,633.2 L962.4,635.1 L962.9,637.0 L963.4,639.0 L963.9,641.0 L964.5,643.1 L965.0,645.1 L965.5,647.1 L966.0,649.0 L966.5,650.9 L967.0,652.8 L967.5,654.6 L968.0,656.3 L968.5,657.8 L969.0,659.3 L969.5,660.7 L970.0,661.9 L970.5,663.0 L971.0,664.0 L971.5,664.8 L972.0,665.4 L972.5,665.9 L973.0,666.2 L973.5,666.3 L974.0,666.3 L974.5,666.1 L975.0,665.8 L975.5,665.3 L976.0,664.6 L976.5,663.7 L977.0,662.7 L977.5,661.6 L978.0,660.4 L978.5,659.0 L979.0,657.5 L979.5,655.8 L980.0,654.1 L980.5,652.3 L981.0,650.5 L981.5,648.5 L982.0,646.6 L982.5,644.6 L983.0,642.6 L983.5,640.5 L984.0,638.5 L984.5,636.5 L985.0,634.6 L985.5,632.7 L986.0,630.9 L986.5,629.1 L987.0,627.4 L987.5,625.9 L988.0,624.4 L988.5,623.1 L989.0,621.9 L989.5,620.8 L990.0,619.9 L990.5,619.2 L991.0,618.6 L991.5,618.1 L992.0,617.9 L992.5,617.8 L993.0,617.8 L993.5,618.0 L994.0,618.4 L994.5,619.0 L995.0,619.7 L995.5,620.6 L996.0,621.6 L996.5,622.8 L997.0,624.1 L997.5,625.5 L998.0,627.0 L998.5,628.7 L999.0,630.4 L999.5,632.2 L1000.0,634.1 L1000.5,636.0 L1001.0,638.0 L1001.5,640.0 L1002.0,642.0"/>
<path class="wave" style="stroke-width:2.2;stroke-linejoin:miter" d="M1165.8 476.2H1183.8V425H1201V476.2H1216.4V425H1233.4V476.2H1250.9V425H1268.3V476.2H1284.2V425H1300.8V476.2H1317.5"/>

<!-- dashed leaders -->
<path class="dash" d="M659.5 128L541.7 184.2V372"/>
<path class="dash" d="M678.3 128L796.1 184.2V372"/>
<path class="dash" d="M679.2 335.7V388.6"/>
<path class="dash" d="M930.6 335.7V388.6"/>
<path class="dash" d="M1253.5 501.1V619.2"/>
<path class="dash" style="stroke-dasharray:10.5 10.87" d="M1007.64 652.91L1082.8 712.8"/>
<circle class="dot" cx="541.6" cy="386.4" r="12.1"/>
<circle class="dot" cx="796.1" cy="386.4" r="12.1"/>
<circle class="dot" cx="679.2" cy="402.7" r="12.1"/>
<circle class="dot" cx="930.7" cy="402.7" r="12.1"/>
<circle class="dot" cx="1253.5" cy="482.6" r="12.1"/>
<circle class="dot" cx="1009.5" cy="654.7" r="12.1"/>

<!-- computer -->
<g>
<rect x="1373.3" y="508" width="94.5" height="15.5" rx="2.5" fill="#8f8f8f" stroke="#6b6b6b" stroke-width="3"/>
<rect x="1369.7" y="421.9" width="101.2" height="86.2" rx="3.5" fill="url(#gbez)" stroke="#6b6b6b" stroke-width="3.6"/>
<rect x="1369" y="506" width="102.6" height="5.6" fill="#6b6b6b"/>
<rect x="1399.9" y="506.6" width="38.6" height="5.6" fill="#fff"/>
<rect x="1380.2" y="431.8" width="80.6" height="65" rx="5" fill="url(#gscr)"/>
</g>

<!-- text -->
<text class="ann" x="440.8" y="57.5">过滤掉<tspan class="lat">ADSL</tspan>的高频信号，只向</text>
<text class="ann" x="440" y="97.5">电话机传输低频语音信号</text>
<text class="ann" x="592.5" y="229">传输<tspan class="lat">ADSL</tspan></text>
<text class="ann" x="591.5" y="269.5">和电话的混</text>
<text class="ann" x="592" y="309">合信号</text>
<text class="ann" x="876" y="273"><tspan class="lat">ADSL</tspan>信号的</text>
<text class="ann" x="876.8" y="313">频率较高</text>
<text class="ann" x="1168" y="665">以太网信号</text>
<text class="ann" x="1016.3" y="753">电话语音信号</text>
<text class="ann" x="1016" y="793.5">的频率较低</text>

<text class="lbl" x="178" y="457.7" text-anchor="middle">DSLAM</text>
<text class="par" x="80.5" y="510">（</text>
<text class="cjkb" x="125" y="510.3">局端多路</text>
<text class="lbl" x="100" y="550.7">Modem</text>
<text class="par" x="226" y="550.5">）</text>
<text class="lbl" x="1076.3" y="491.9" text-anchor="middle">ADSL</text>
<text class="lbl" x="1081" y="532.1" text-anchor="middle">Modem</text>
<text class="cjkb" x="544" y="476" text-anchor="middle">分</text>
<text class="cjkb" x="544" y="510.5" text-anchor="middle">离</text>
<text class="cjkb" x="544" y="545" text-anchor="middle">器</text>
<text class="cjkb" x="796" y="476" text-anchor="middle">分</text>
<text class="cjkb" x="796" y="510.5" text-anchor="middle">离</text>
<text class="cjkb" x="796" y="545" text-anchor="middle">器</text>
<text class="cjkb" x="410.6" y="801.3" text-anchor="middle">电话交换机</text>
<text class="cjkb" x="910.6" y="801.5" text-anchor="middle">电话</text>
</svg>
</body>
</html>
